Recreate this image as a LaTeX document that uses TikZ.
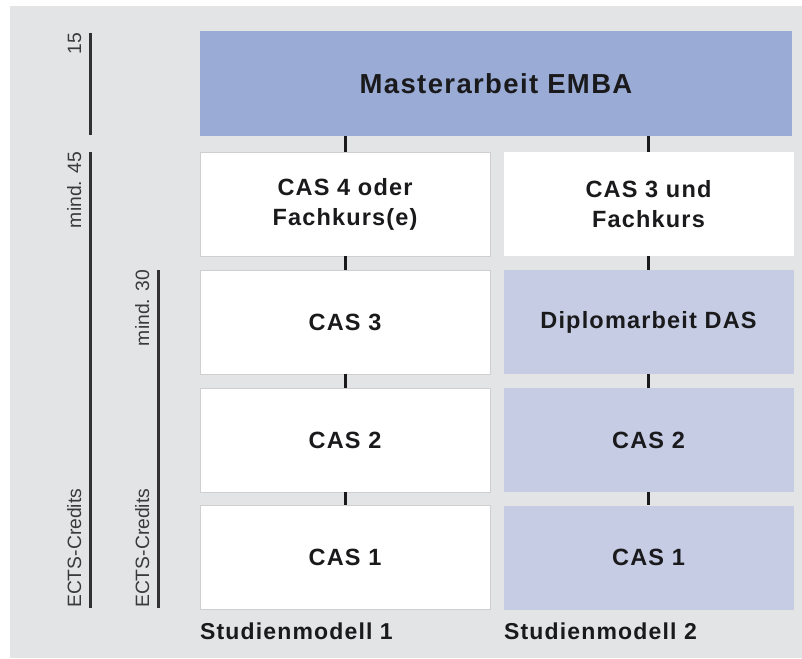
\documentclass[tikz,border=0pt]{standalone}
\usepackage{fontspec}
\setmainfont{Liberation Sans}
\newfontfamily\boxfont[LetterSpace=5]{Liberation Sans}
\definecolor{bg}{HTML}{E3E4E6}
\definecolor{darkblue}{HTML}{9AABD5}
\definecolor{lightblue}{HTML}{C5CCE4}
\definecolor{ink}{HTML}{1A1A1C}
\definecolor{soft}{HTML}{3A3A3C}
\definecolor{edge}{HTML}{CFCFD1}
\tikzset{
  cell/.style={minimum width=290pt, minimum height=104pt, inner sep=0pt, align=center,
    font=\boxfont\bfseries\fontsize{23.5}{30}\selectfont, text=ink},
  whitecell/.style={cell, fill=white, draw=edge, line width=0.8pt},
  bluecell/.style={cell, fill=lightblue},
  link/.style={draw=ink, line width=3pt},
  bar/.style={draw=ink!90, line width=3pt},
  sidetext/.style={rotate=90, inner sep=0pt, text=soft, font=\fontsize{19.3}{22}\selectfont},
  colhead/.style={anchor=base west, inner sep=0pt, text=ink, font=\boxfont\bfseries\fontsize{23}{28}\selectfont}
}
\begin{document}
\begin{tikzpicture}[x=1pt,y=-1pt]
\useasboundingbox (0,0) rectangle (802,658);
\fill[bg] (10,6) rectangle (802,658);
% top box
\node[cell, fill=darkblue, minimum width=592pt, minimum height=105pt,
  font=\boxfont\bfseries\fontsize{27.5}{32}\selectfont] (m) at (496,83.5) {Masterarbeit EMBA};
% column 1
\node[whitecell] (a1) at (345,204) {CAS 4 oder\\Fachkurs(e)};
\node[whitecell] (a2) at (345,322) {CAS 3};
\node[whitecell] (a3) at (345,440) {CAS 2};
\node[whitecell] (a4) at (345,557.5) {CAS 1};
% column 2
\node[cell, fill=white] (b1) at (648.5,204) {CAS 3 und\\Fachkurs};
\node[bluecell] (b2) at (648.5,322) {Diplomarbeit DAS};
\node[bluecell] (b3) at (648.5,440) {CAS 2};
\node[bluecell] (b4) at (648.5,557.5) {CAS 1};
% connectors
\draw[link] (m.south -| a1.north) -- (a1.north);
\draw[link] (a1.south) -- (a2.north);
\draw[link] (a2.south) -- (a3.north);
\draw[link] (a3.south) -- (a4.north);
\draw[link] (m.south -| b1.north) -- (b1.north);
\draw[link] (b1.south) -- (b2.north);
\draw[link] (b2.south) -- (b3.north);
\draw[link] (b3.south) -- (b4.north);
% side scales
\coordinate (p1) at (90,33);  \coordinate (p2) at (90,135);
\coordinate (p3) at (90,152); \coordinate (p4) at (90,608);
\coordinate (p5) at (158,270); \coordinate (p6) at (158,608);
\draw[bar] (p1) -- (p2);
\draw[bar] (p3) -- (p4);
\draw[bar] (p5) -- (p6);
\node[sidetext, anchor=base east] (t15) at (81,33) {15};
\node[sidetext, anchor=base east] (t45) at (81,152) {mind. 45};
\node[sidetext, anchor=base west] (e1) at (81,608) {ECTS-Credits};
\node[sidetext, anchor=base east] (t30) at (149,270) {mind. 30};
\node[sidetext, anchor=base west] (e2) at (149,608) {ECTS-Credits};
% column headings
\node[colhead] (h1) at (200,639) {Studienmodell 1};
\node[colhead] (h2) at (504,639) {Studienmodell 2};
\end{tikzpicture}
\end{document}
